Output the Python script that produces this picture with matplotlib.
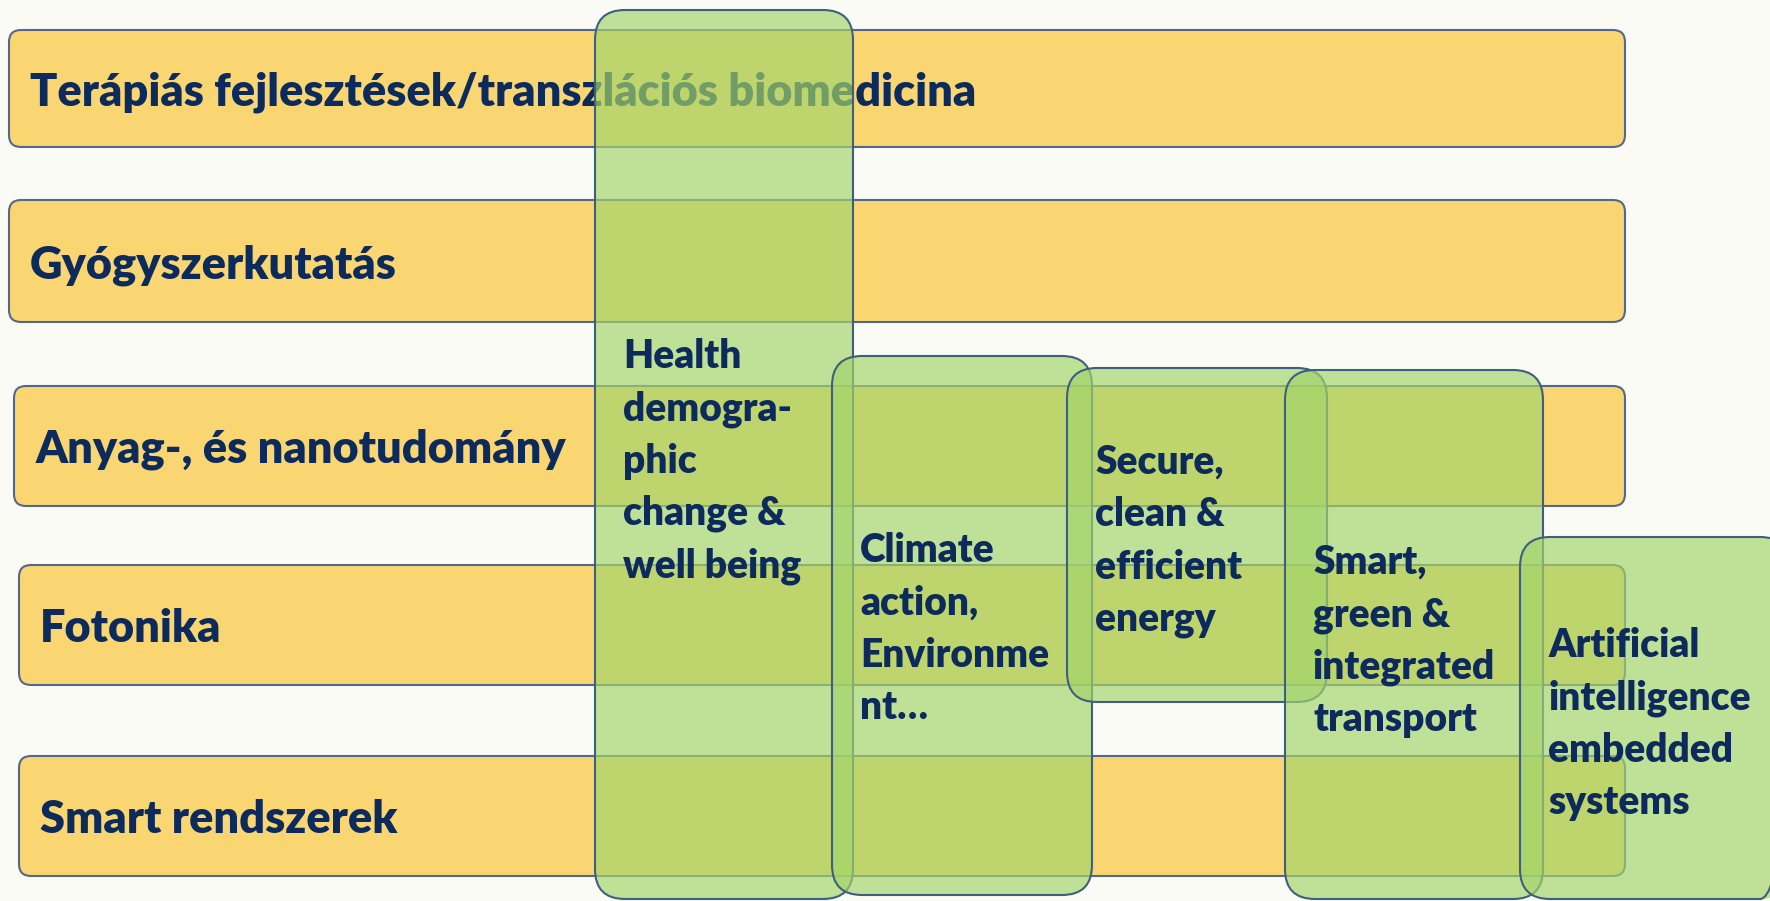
import matplotlib.pyplot as plt
from matplotlib.patches import FancyBboxPatch

# Rows (research areas) and columns (societal challenges)
row_labels = [
    "Terápiás fejlesztések/transzlációs biomedicina",
    "Gyógyszerkutatás",
    "Anyag-, és nanotudomány",
    "Fotonika",
    "Smart rendszerek",
]
theme_labels = [
    ["Health", "demogra-", "phic", "change &", "well being"],
    ["Climate", "action,", "Environme", "nt…"],
    ["Secure,", "clean &", "efficient", "energy"],
    ["Smart,", "green &", "integrated", "transport"],
    ["Artificial", "intelligence", "embedded", "systems"],
]

# layout in pixels (image coords, y downwards)
row_x0 = [9, 9, 14, 19, 19]
row_x1 = 1625
row_y0 = [30, 200, 386, 565, 756]
row_y1 = [147, 322, 506, 685, 876]
row_tx = [30, 30, 36, 40, 40]

theme_x0 = [595, 832, 1067, 1285, 1520]
theme_x1 = [853, 1092, 1327, 1543, 1790]
theme_y0 = [10, 356, 368, 370, 537]
theme_y1 = [899, 895, 702, 899, 899]
theme_ty = [353, 547, 459, 559, 642]
line_step = 52.3

W, H = 1770, 901
bg = "#fbfbf6"
navy = "#0c2a5c"

fig = plt.figure(figsize=(W / 100, H / 100), dpi=100)
fig.patch.set_facecolor(bg)
ax = fig.add_axes([0, 0, 1, 1])
ax.set_xlim(0, W)
ax.set_ylim(H, 0)
ax.axis("off")

font = ["Lato", "DejaVu Sans"]

for lab, x0, y0, y1, tx in zip(row_labels, row_x0, row_y0, row_y1, row_tx):
    ax.add_patch(FancyBboxPatch((x0 + 12, y0 + 12), row_x1 - x0 - 24, y1 - y0 - 24,
                                boxstyle="round,pad=12", fc="#f9d672", ec="#55688a",
                                lw=1.5, zorder=1))
    ax.text(tx, (y0 + y1) / 2, lab, fontsize=32.5, fontweight="heavy", family=font,
            color=navy, va="center_baseline", ha="left", zorder=2)

for lines, x0, x1, y0, y1, ty in zip(theme_labels, theme_x0, theme_x1, theme_y0, theme_y1, theme_ty):
    ax.add_patch(FancyBboxPatch((x0 + 30, y0 + 30), x1 - x0 - 60, y1 - y0 - 60,
                                boxstyle="round,pad=30", fc="#a3d46b", ec="none",
                                alpha=0.68, zorder=3))
    ax.add_patch(FancyBboxPatch((x0 + 30, y0 + 30), x1 - x0 - 60, y1 - y0 - 60,
                                boxstyle="round,pad=30", fc="none", ec="#3f5f80",
                                lw=1.5, zorder=3))
    for i, line in enumerate(lines):
        ax.text(x0 + 28, ty + i * line_step, line, fontsize=28, fontweight="heavy",
                family=font, color=navy, va="center_baseline", ha="left", zorder=4)

fig.savefig("out.png", dpi=100, facecolor=bg)
